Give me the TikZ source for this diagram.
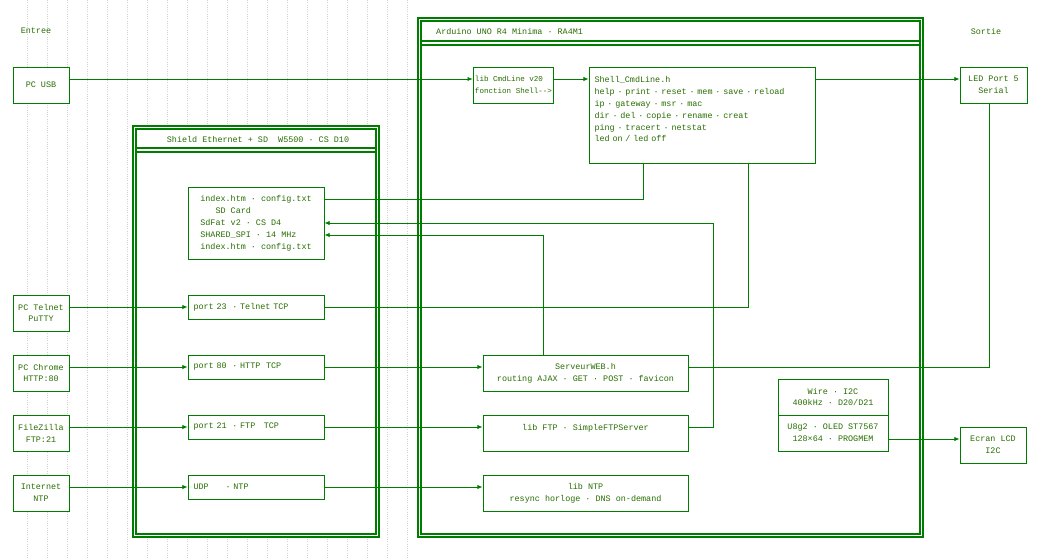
\documentclass[tikz,border=0pt]{standalone}
\usepackage{fontspec}
\setmainfont{Liberation Mono}
\usetikzlibrary{arrows.meta}
\definecolor{lineg}{RGB}{0,125,0}
\definecolor{textg}{RGB}{40,110,0}
\begin{document}
\begin{tikzpicture}[
    x=0.02cm, y=-0.02cm,
    every node/.style={font=\fontsize{4.8}{6.8}\selectfont, text=textg},
    box/.style={rectangle, draw=lineg, fill=white, line width=0.5pt, inner sep=1pt},
    frame/.style={draw=lineg, line width=0.6pt},
    link/.style={draw=lineg, line width=0.5pt},
    arr/.style={link, -{Latex[length=3pt,width=2.5pt]}}
]
\useasboundingbox (0,0) rectangle (1045,558);

% background grid
\foreach \gx in {27,47,...,407}
  \draw[gray!35, densely dotted, line width=0.3pt] (\gx,0) -- (\gx,558);

% frames
\fill[white] (133,126) rectangle (379,537);
\draw[frame] (133,126) rectangle (379,537);
\draw[frame] (136,129) rectangle (376,534);
\draw[frame] (136,148) -- (376,148);
\draw[frame] (136,152) -- (376,152);
\node[anchor=center] (shieldt) at (258,139) {Shield Ethernet + SD\ \ W5500 · CS D10};
\fill[white] (418,18) rectangle (923,537);
\draw[frame] (418,18) rectangle (923,537);
\draw[frame] (421,21) rectangle (920,534);
\draw[frame] (421,41) -- (920,41);
\draw[frame] (421,45) -- (920,45);
\node[anchor=west] (ardt) at (430,31) {Arduino UNO R4 Minima · RA4M1};

% column titles
\node (entree) at (36,31) {Entree};
\node (sortie) at (986,31) {Sortie};

% inputs
\node[box, minimum width=1.12cm, minimum height=0.72cm] (pcusb) at (41,85) {PC USB\\\mbox{}};
\node[box, minimum width=1.12cm, minimum height=0.72cm, align=center] (telnet) at (41,313) {PC Telnet\\PuTTY};
\node[box, minimum width=1.12cm, minimum height=0.72cm, align=center] (chrome) at (41,373) {PC Chrome\\HTTP:80};
\node[box, minimum width=1.12cm, minimum height=0.72cm, align=center] (fzilla) at (41,433) {FileZilla\\FTP:21};
\node[box, minimum width=1.12cm, minimum height=0.72cm, align=center] (inet) at (41,493) {Internet\\NTP};

% shield
\node[box, minimum width=2.72cm, minimum height=1.44cm, align=left] (sd) at (256,223) {index.htm · config.txt\\\hspace{1.8em}SD Card\\SdFat v2 · CS D4\\SHARED\_SPI · 14 MHz\\index.htm · config.txt};
\node[box, minimum width=2.72cm, minimum height=0.48cm, text width=2.5cm] (p23) at (256,307) {port 23\ \ · Telnet TCP};
\node[box, minimum width=2.72cm, minimum height=0.48cm, text width=2.5cm] (p80) at (256,367) {port 80\ \ · HTTP\ \ TCP};
\node[box, minimum width=2.72cm, minimum height=0.48cm, text width=2.5cm] (p21) at (256,427) {port 21\ \ · FTP\ \ \ TCP};
\node[box, minimum width=2.72cm, minimum height=0.48cm, text width=2.5cm] (udp) at (256,487) {UDP\ \ \ \ \ \ · NTP};

% arduino
\node[box, minimum width=1.38cm, minimum height=0.72cm, align=left, font=\fontsize{4.3}{6.8}\selectfont] (cmd) at (513.5,85) {lib CmdLine v20\\fonction Shell-{}-{}>};
\node[box, minimum width=4.52cm, minimum height=1.92cm, align=left, text width=4.3cm] (shell) at (702,115) {Shell\_CmdLine.h\\help · print · reset · mem · save · reload\\ip · gateway · msr · mac\\dir · del · copie · rename · creat\\ping · tracert · netstat\\led on / led off\\\mbox{}};
\node[box, minimum width=4.1cm, minimum height=0.72cm, align=center] (web) at (585.5,373) {ServeurWEB.h\\routing AJAX · GET · POST · favicon};
\node[box, minimum width=4.1cm, minimum height=0.72cm, align=center] (ftp) at (585.5,433) {lib FTP · SimpleFTPServer\\\mbox{}};
\node[box, minimum width=4.1cm, minimum height=0.72cm, align=center] (ntp) at (585.5,493) {lib NTP\\resync horloge · DNS on-demand};
\node[box, minimum width=2.2cm, minimum height=0.72cm, align=center] (wire) at (833,397) {Wire · I2C\\400kHz · D20/D21};
\node[box, minimum width=2.2cm, minimum height=0.72cm, align=center] (u8g) at (833,433) {U8g2 · OLED ST7567\\128×64 · PROGMEM};

% outputs
\node[box, minimum width=1.34cm, minimum height=0.72cm, align=center] (led) at (993.5,85) {LED Port 5\\Serial};
\node[box, minimum width=1.32cm, minimum height=0.72cm, align=center] (lcd) at (993,445) {Ecran LCD\\I2C};

% links
\draw[arr] (pcusb.east |- 0,79) -- (cmd.west |- 0,79);
\draw[arr] (cmd.east |- 0,79) -- (shell.west |- 0,79);
\draw[arr] (shell.east |- 0,79) -- (led.west |- 0,79);
\draw[arr] (telnet.east |- p23) -- (p23);
\draw[arr] (chrome.east |- p80) -- (p80);
\draw[arr] (fzilla.east |- p21) -- (p21);
\draw[arr] (inet.east |- udp) -- (udp);
\draw[arr] (p80.east) -- (web.west |- p80.east);
\draw[arr] (p21.east) -- (ftp.west |- p21.east);
\draw[arr] (udp.east) -- (ntp.west |- udp.east);
\draw[link] (sd.east |- 0,199) -| (shell.south -| 643,0);
\draw[arr] (ftp.east |- 0,427) -| (713,223) -- (sd.east |- 0,223);
\draw[arr] (web.north -| 543,0) |- (sd.east |- 0,235);
\draw[link] (p23.east) -| (shell.south -| 748,0);
\draw[link] (web.east |- 0,367) -| (led.south -| 989,0);
\draw[arr] (u8g.east |- 0,439) -- (lcd.west |- 0,439);
\end{tikzpicture}
\end{document}
